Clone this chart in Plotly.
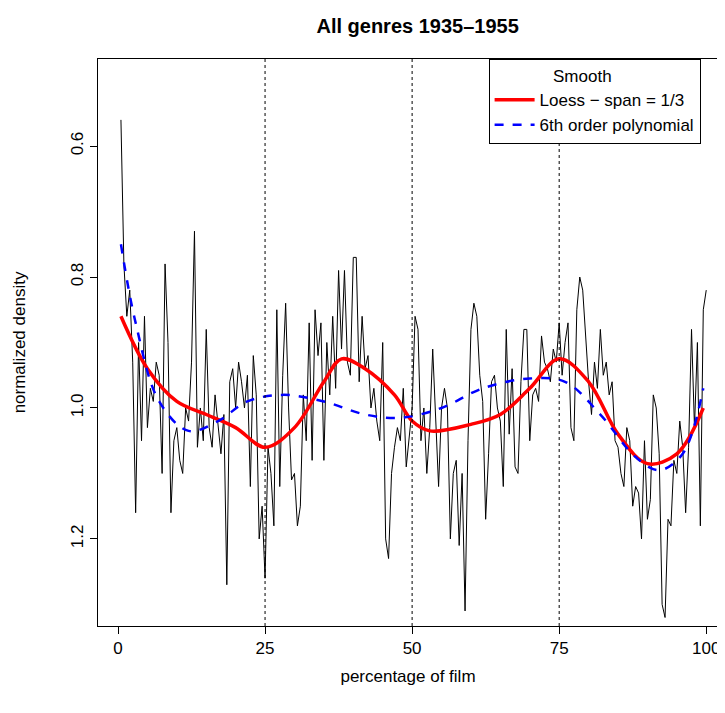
import numpy as np
import plotly.graph_objects as go

# raw density, 200 points at 0.5 spacing
x_raw = np.arange(0.5, 100.5, 0.5)
y_raw = [0.56,0.78,0.86,0.82,0.93,1.16,0.90,1.05,0.86,1.03,
         0.97,0.99,0.93,0.95,1.10,0.78,0.90,1.16,1.05,1.03,
         1.08,1.10,1.00,1.02,0.93,0.73,1.06,1.00,1.05,0.88,
         1.03,1.06,0.98,1.02,1.07,1.01,1.27,0.96,0.94,1.00,
         0.93,0.96,1.00,0.95,1.12,0.92,0.98,1.20,1.15,1.26,
         1.06,1.10,1.18,0.85,1.12,0.95,0.84,1.00,1.11,1.10,
         1.18,1.15,0.98,1.05,0.87,1.08,0.85,0.92,0.87,1.08,
         0.90,0.98,0.86,0.97,0.79,0.91,0.79,0.93,0.95,0.77,
         0.77,0.96,0.86,0.94,0.92,1.00,0.97,1.02,1.05,0.90,
         1.20,1.23,1.10,1.06,1.03,1.05,0.97,1.09,1.05,1.00,
         0.86,0.88,1.05,1.00,1.10,1.03,0.91,1.02,1.12,1.00,
         0.97,1.00,1.20,1.10,1.08,1.21,1.10,1.31,1.05,0.88,
         0.84,0.86,0.95,0.99,1.17,1.07,0.96,0.95,1.00,1.02,
         1.12,0.88,1.04,0.94,1.09,1.10,0.96,0.88,0.88,1.05,
         0.98,0.97,0.99,0.89,0.93,0.94,0.96,0.91,0.93,0.87,
         0.95,0.90,0.87,1.03,1.05,0.85,0.80,0.82,0.89,0.96,
         1.01,0.93,0.97,0.88,0.95,0.93,0.98,0.96,1.05,1.06,
         1.10,1.12,1.03,1.05,1.15,1.12,1.13,1.20,1.05,1.17,
         1.14,0.98,1.00,1.07,1.30,1.32,1.17,1.18,1.08,1.10,
         1.02,1.06,1.16,1.06,0.88,1.03,0.90,1.18,0.85,0.82]

# loess curve
x_loess = [0.5,5,10,15,20,25,30,35,38,42,47,50,53,60,65,70,75,80,85,90,95,99.5]
y_loess = [0.86,0.94,0.99,1.01,1.03,1.06,1.03,0.96,0.925,0.94,0.98,1.02,1.035,1.025,1.01,0.97,0.925,0.96,1.04,1.085,1.07,1.0]

# 6th order polynomial
x_poly = [0.5,3,7,12,17,22,28,35,42,48,55,62,70,76,82,88,92,96,99.5]
y_poly = [0.75,0.87,0.99,1.035,1.02,0.99,0.98,0.99,1.01,1.015,1.0,0.97,0.955,0.96,1.01,1.075,1.095,1.07,0.97]

vlines = [25, 50, 75]

fig = go.Figure()
fig.add_trace(go.Scatter(x=x_raw, y=y_raw, mode='lines', line=dict(color='black', width=1), showlegend=False))
fig.add_trace(go.Scatter(x=x_loess, y=y_loess, mode='lines', line=dict(color='red', width=3.5, shape='spline'),
                         name='Loess \u2212 span = 1/3'))
fig.add_trace(go.Scatter(x=x_poly, y=y_poly, mode='lines', line=dict(color='blue', width=2.5, dash='dash', shape='spline'),
                         name='6th order polynomial'))

for v in vlines:
    fig.add_shape(type='line', x0=v, x1=v, y0=0, y1=1, xref='x', yref='paper',
                  line=dict(color='black', width=1, dash='dot'))

ax = dict(showgrid=False, zeroline=False, showline=True, linecolor='black', mirror=True, automargin=False,
          ticks='outside', ticklen=7, tickcolor='black', tickfont=dict(size=17, color='black'))
fig.update_xaxes(range=[-3.4, 102], tickvals=[0, 25, 50, 75, 100], title=dict(text='percentage of film', font=dict(size=17), standoff=12), **ax)
fig.update_yaxes(range=[1.333, 0.467], tickvals=[0.6, 0.8, 1.0, 1.2], ticktext=['0.6', '0.8', '1.0', '1.2'],
                 tickangle=-90, title=dict(text='normalized density', font=dict(size=17), standoff=38), **ax)

fig.update_layout(
    width=725, height=713,
    margin=dict(l=90, r=15, t=51, b=95),
    plot_bgcolor='white', paper_bgcolor='white',
    font=dict(family='Liberation Sans, Arial', color='black', size=17),
    title=dict(text='<b>All genres 1935\u20131955</b>', x=0.565, xanchor='center', y=0.985, yanchor='top', font=dict(size=20)),
    legend=dict(x=0.63, y=1, xanchor='left', yanchor='top', bordercolor='black', borderwidth=1,
                bgcolor='white', title=dict(text='             Smooth', side='top', font=dict(size=17)),
                font=dict(size=17), tracegroupgap=0, itemwidth=40),
)

fig.write_html("out.html")
